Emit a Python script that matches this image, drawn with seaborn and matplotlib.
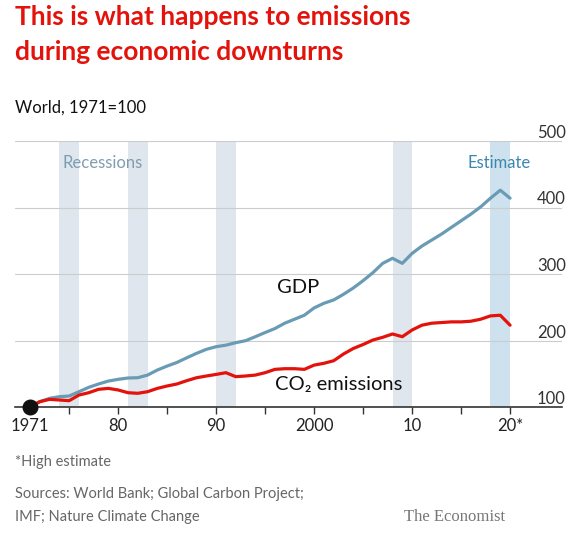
import matplotlib
matplotlib.use("Agg")
import matplotlib.pyplot as plt
import seaborn as sns
import pandas as pd

# Data (World, 1971=100)
years = list(range(1971, 2021))
gdp = [100, 108, 113, 115.5, 116.5, 123, 129.6, 134.6, 139, 141.6,
       143.6, 144, 148, 155.6, 161.6, 167, 174, 180.7, 186.7, 190.7,
       193, 196.7, 199.7, 205.7, 212, 218, 226, 232, 238, 249,
       256, 261, 269.5, 279, 290, 302, 316, 323.6, 316, 331,
       342, 351, 360, 370, 380, 390, 401, 414, 426, 414]
co2 = [100, 108, 111.5, 110.5, 109.5, 118, 121.5, 126.6, 128, 125.6,
       121.5, 120.6, 123, 128, 131.6, 134.6, 139.6, 144, 146.6, 149,
       151.6, 145.6, 146.6, 148, 151.6, 156.6, 157.6, 157.6, 156.6, 163,
       165.7, 169.6, 179.7, 188, 194, 200.7, 204.8, 209.8, 205.7, 215.8,
       223, 226, 227, 228, 228, 229, 232, 237, 238, 223]
recessions = [(1974, 1976), (1981, 1983), (1990, 1992), (2008, 2010)]
estimate = (2018, 2020)
xticks = [1971, 1980, 1990, 2000, 2010, 2020]
xticklabels = ["1971", "80", "90", "2000", "10", "20*"]
yticks = [100, 200, 300, 400, 500]

df = pd.DataFrame({"year": years, "GDP": gdp, "CO2": co2})

sns.set_style("white")
plt.rcParams["font.family"] = ["Lato", "DejaVu Sans"]

RED = "#e3120b"
BLUE = "#6a9bb5"

fig = plt.figure(figsize=(5.8, 5.35), dpi=100)
ax = fig.add_axes([15 / 580, 1 - 407 / 535, 547 / 580, 266 / 535])

for a, b in recessions:
    ax.axvspan(a, b, color="#dfe6ed", lw=0, zorder=0)
ax.axvspan(*estimate, color="#cde2ee", lw=0, zorder=0)

for v in yticks[1:]:
    ax.axhline(v, color="#cccccc", lw=0.8, zorder=1)

sns.lineplot(data=df, x="year", y="GDP", color=BLUE, lw=2.3, ax=ax, zorder=3)
sns.lineplot(data=df, x="year", y="CO2", color=RED, lw=2.3, ax=ax, zorder=4)
ax.scatter([years[0]], [gdp[0]], s=110, color="#111111", zorder=6, clip_on=False)

ax.set_xlim(1969.47, 2025.3)
ax.set_ylim(100, 500)
ax.set_xlabel("")
ax.set_ylabel("")
for s in ["top", "left", "right"]:
    ax.spines[s].set_visible(False)
ax.spines["bottom"].set_color("#333333")
ax.spines["bottom"].set_linewidth(1.2)

ax.set_xticks(xticks)
ax.set_xticklabels(xticklabels)
ax.set_xticks(list(range(1975, 2020, 10)), minor=True)
ax.tick_params(axis="x", which="both", direction="out", length=5, width=1,
               color="#333333", labelsize=12, labelcolor="#222222", pad=3, bottom=True)

ax.yaxis.tick_right()
ax.set_yticks(yticks)
ax.set_yticklabels([str(v) for v in yticks])
ax.tick_params(axis="y", length=0, labelsize=12, labelcolor="#333333", pad=-18)
for lab in ax.get_yticklabels():
    lab.set_verticalalignment("bottom")

ax.text(1974.3, 467, "Recessions", color="#7f9db0", fontsize=12, va="center", ha="left")
ax.text(2022.1, 467, "Estimate", color="#3b87ad", fontsize=12, va="center", ha="right")
ax.text(1996.2, 279, "GDP", color="#111111", fontsize=14.5, va="center", ha="left")
ax.text(1996.0, 134, "CO₂ emissions", color="#111111", fontsize=14.5, va="center", ha="left")

fig.text(15 / 580, 1 - 17 / 535, "This is what happens to emissions", color=RED,
         fontsize=19, fontweight="bold", va="center", ha="left")
fig.text(15 / 580, 1 - 52 / 535, "during economic downturns", color=RED,
         fontsize=19, fontweight="bold", va="center", ha="left")
fig.text(15 / 580, 1 - 108 / 535, "World, 1971=100", color="#111111",
         fontsize=12, va="center", ha="left")

fig.text(15 / 580, 1 - 462 / 535, "*High estimate", color="#666666", fontsize=10.5, va="center")
fig.text(15 / 580, 1 - 494 / 535, "Sources: World Bank; Global Carbon Project;", color="#666666",
         fontsize=10.5, va="center")
fig.text(15 / 580, 1 - 517 / 535, "IMF; Nature Climate Change", color="#666666",
         fontsize=10.5, va="center")
fig.text(505 / 580, 1 - 517 / 535, "The Economist", color="#777777", fontsize=12,
         family=["Liberation Serif", "DejaVu Serif"], va="center", ha="right")

fig.savefig("out.png", dpi=100, facecolor="white")
